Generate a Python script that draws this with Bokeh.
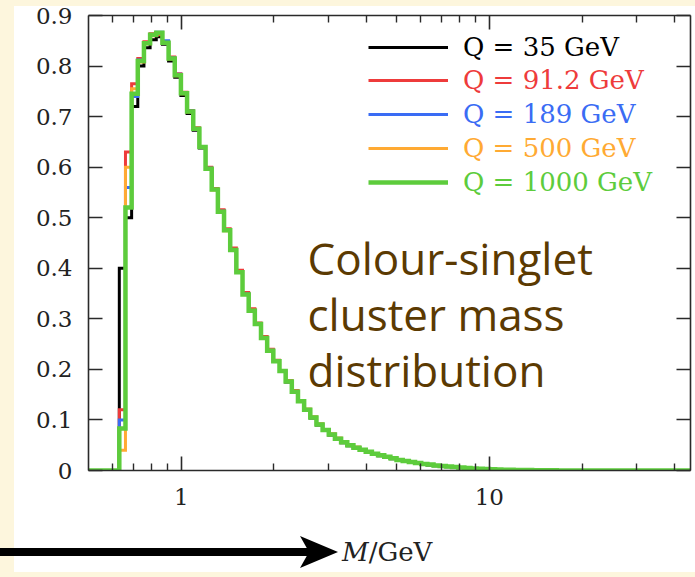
import numpy as np
from bokeh.plotting import figure
from bokeh.layouts import column
from bokeh.models import (FixedTicker, LogAxis, LinearAxis, Label, Legend, LegendItem,
                          Range1d, Div)
from bokeh.embed import file_html
from bokeh.resources import INLINE

# ---------------- data ----------------
# bins: uniform in log10(M), width 0.02 decades, starting at M = 0.5 GeV
bin_start_gev = 0.5
bin_width_dec = 0.02
x_max_gev = 45.0

q_labels = ["Q = 35 GeV", "Q = 91.2 GeV", "Q = 189 GeV", "Q = 500 GeV", "Q = 1000 GeV"]
colors = ["#000000", "#ee3b3b", "#3a6cf4", "#ffaa33", "#5dcc3c"]
widths = [3, 3, 3, 3, 4.5]

q35 = [0, 0, 0, 0, 0, 0.40, 0.50, 0.72, 0.80, 0.836, 0.852, 0.858, 0.843, 0.81, 0.778,
       0.742, 0.706, 0.673, 0.638, 0.596, 0.556, 0.514, 0.476, 0.437, 0.394, 0.35, 0.318,
       0.29, 0.263, 0.238, 0.216, 0.196, 0.175, 0.156, 0.137, 0.12, 0.104, 0.09, 0.079,
       0.07, 0.062, 0.055, 0.049, 0.044, 0.04, 0.036, 0.032, 0.029, 0.026, 0.023, 0.02,
       0.018, 0.016, 0.014, 0.012, 0.011, 0.0095, 0.0085, 0.0075, 0.0065, 0.0055, 0.0045,
       0.0037, 0.003, 0.0025, 0.002, 0.0016, 0.0013, 0.001, 0.0008, 0.0006, 0.0004,
       0.0003, 0.0002, 0.0001]
q91 = [0, 0, 0, 0, 0, 0.12, 0.63, 0.765, 0.815, 0.848, 0.864, 0.862, 0.848, 0.818, 0.785,
       0.748, 0.712, 0.678, 0.64, 0.6, 0.558, 0.516, 0.478, 0.44, 0.396, 0.352, 0.32,
       0.292, 0.265, 0.24, 0.218, 0.198, 0.178, 0.158, 0.138, 0.121, 0.106, 0.092, 0.081,
       0.072, 0.064, 0.057, 0.051, 0.046, 0.041, 0.037, 0.033, 0.03, 0.027, 0.024, 0.021,
       0.019, 0.017, 0.015, 0.013, 0.012, 0.01, 0.009, 0.008, 0.007, 0.006, 0.005, 0.004,
       0.0035, 0.003, 0.0025, 0.002, 0.0017, 0.0014, 0.0012, 0.001, 0.0008, 0.0006,
       0.0005, 0.0004, 0.0003, 0.0002, 0.0001]
q189 = [0, 0, 0, 0, 0, 0.10, 0.56, 0.74, 0.812, 0.846, 0.862, 0.867, 0.85, 0.816, 0.784,
        0.747, 0.711, 0.676, 0.641, 0.598, 0.556, 0.513, 0.475, 0.437, 0.393, 0.349, 0.316,
        0.29, 0.262, 0.238, 0.216, 0.197, 0.176, 0.156, 0.137, 0.12, 0.105, 0.091, 0.08,
        0.071, 0.063, 0.056, 0.05, 0.045, 0.041, 0.037, 0.033, 0.03, 0.027, 0.024, 0.021,
        0.019, 0.017, 0.015, 0.013, 0.012, 0.01, 0.009, 0.008, 0.007, 0.006, 0.005, 0.004,
        0.0035, 0.003, 0.0025, 0.002, 0.0017, 0.0014, 0.0012, 0.001, 0.0008, 0.0006,
        0.0005, 0.0004, 0.0003, 0.0002, 0.0001]
q500 = [0, 0, 0, 0, 0, 0.04, 0.60, 0.755, 0.808, 0.844, 0.86, 0.864, 0.846, 0.814, 0.781,
        0.745, 0.709, 0.675, 0.639, 0.597, 0.555, 0.512, 0.474, 0.436, 0.392, 0.348, 0.317,
        0.291, 0.263, 0.238, 0.217, 0.198, 0.177, 0.157, 0.138, 0.121, 0.106, 0.092, 0.081,
        0.072, 0.064, 0.057, 0.051, 0.046, 0.041, 0.037, 0.033, 0.03, 0.027, 0.024, 0.021,
        0.019, 0.017, 0.015, 0.013, 0.012, 0.01, 0.009, 0.008, 0.007, 0.006, 0.005, 0.004,
        0.0035, 0.003, 0.0025, 0.002, 0.0017, 0.0014, 0.0012, 0.001, 0.0008, 0.0006,
        0.0005, 0.0004, 0.0003, 0.0002, 0.0001]
q1000 = [0, 0, 0, 0, 0, 0.083, 0.52, 0.745, 0.81, 0.845, 0.862, 0.866, 0.846, 0.815, 0.782,
         0.746, 0.71, 0.676, 0.64, 0.597, 0.556, 0.512, 0.475, 0.436, 0.392, 0.348, 0.316,
         0.29, 0.262, 0.237, 0.216, 0.197, 0.176, 0.156, 0.137, 0.12, 0.105, 0.091, 0.08,
         0.071, 0.063, 0.056, 0.05, 0.045, 0.041, 0.037, 0.033, 0.03, 0.027, 0.024, 0.021,
         0.019, 0.017, 0.015, 0.013, 0.012, 0.01, 0.009, 0.008, 0.007, 0.006, 0.005, 0.004,
         0.0035, 0.003, 0.0025, 0.002, 0.0017, 0.0014, 0.0012, 0.001, 0.0008, 0.0006,
         0.0005, 0.0004, 0.0003, 0.0002, 0.0001]
series = [q35, q91, q189, q500, q1000]

x_major = [1, 10]
x_minor = [0.6, 0.7, 0.8, 0.9, 2, 3, 4, 5, 6, 7, 8, 9, 20, 30, 40]
y_ticks = [0, 0.1, 0.2, 0.3, 0.4, 0.5, 0.6, 0.7, 0.8, 0.9]
y_tick_labels = ["0", "0.1", "0.2", "0.3", "0.4", "0.5", "0.6", "0.7", "0.8", "0.9"]
title_lines = ["Colour-singlet", "cluster mass", "distribution"]
x_title_var = "M"
x_title_unit = "/GeV"

# ---------------- styling ----------------
CREAM = "#fdf6dd"
BROWN = "#5b3a02"
SERIF = "DejaVu Serif"
AX = "#2a2a2a"
W = 695
H_MAIN = 530
H_ARROW = 47


def step_xy(vals):
    n = len(vals)
    edges = 10 ** (np.log10(bin_start_gev) + bin_width_dec * np.arange(n + 1))
    xs, ys = [], []
    for k, v in enumerate(vals):
        xs += [edges[k], edges[k + 1]]
        ys += [v, v]
    xs += [edges[-1], x_max_gev]
    ys += [0, 0]
    return xs, ys


p = figure(width=W, height=H_MAIN, x_axis_type="log",
           x_range=Range1d(bin_start_gev, x_max_gev), y_range=Range1d(0, 0.9),
           output_backend="svg", toolbar_location=None,
           min_border_left=88, min_border_right=5, min_border_top=15, min_border_bottom=60,
           border_fill_alpha=0, background_fill_color="white",
           outline_line_color=None)
# cream page with a white card behind the chart
p.styles = {"background": "linear-gradient(#ffffff, #ffffff) 14px 6px / 681px 524px no-repeat, "
                          + CREAM}
p.grid.visible = False

renderers = []
for vals, c, w in zip(series, colors, widths):
    xs, ys = step_xy(vals)
    r = p.line(xs, ys, line_color=c, line_width=w, line_join="miter")
    renderers.append(r)

xt = FixedTicker(ticks=x_major, minor_ticks=x_minor)
yt = FixedTicker(ticks=y_ticks)


def style_axis(ax):
    ax.axis_line_color = AX
    ax.axis_line_width = 1.6
    ax.major_tick_line_color = AX
    ax.major_tick_line_width = 1.6
    ax.minor_tick_line_color = AX
    ax.minor_tick_line_width = 1.4
    ax.major_tick_in = 14
    ax.major_tick_out = 0
    ax.minor_tick_in = 7
    ax.minor_tick_out = 0
    ax.major_label_text_font = SERIF
    ax.major_label_text_font_size = "23px"
    ax.major_label_text_color = "#222222"


xa = p.xaxis[0]
xa.ticker = xt
style_axis(xa)
xa.major_label_overrides = {1: "1", 10: "10"}
xa.major_label_standoff = 18

ya = p.yaxis[0]
ya.ticker = yt
style_axis(ya)
ya.major_label_overrides = dict(zip(y_ticks, y_tick_labels))
ya.major_label_standoff = 16

top = LogAxis(ticker=xt)
style_axis(top)
top.major_label_overrides = {t: "" for t in x_major}
top.major_label_standoff = 0
p.add_layout(top, "above")

right = LinearAxis(ticker=yt)
style_axis(right)
right.major_label_overrides = {t: "" for t in y_ticks}
right.major_label_standoff = 0
p.add_layout(right, "right")

# legends: one per series so that each label gets its own colour
row_centres = [46.7, 80.0, 114.0, 147.5, 181.5]
for lab, r, c, yc in zip(q_labels, renderers, colors, row_centres):
    lg = Legend(items=[LegendItem(label=lab, renderers=[r])],
                location=(280, 470 - yc - 16),
                glyph_width=80, glyph_height=32, label_height=32, label_standoff=15,
                padding=0, margin=0, spacing=0,
                border_line_color=None, background_fill_alpha=0,
                label_text_font=SERIF, label_text_font_size="26px",
                label_text_color=c)
    p.add_layout(lg)

# big description text
for i, line in enumerate(title_lines):
    p.add_layout(Label(x=307, y=257 + 56 * i, x_units="canvas", y_units="canvas",
                       text=line, text_font="Open Sans", text_font_size="44px",
                       text_color=BROWN, text_baseline="alphabetic"))

# ---------------- strip below: arrow + axis title ----------------
strip_html = (
    f'<div style="position:relative;width:{W}px;height:{H_ARROW}px;margin:0;'
    f'background:linear-gradient(#ffffff,#ffffff) 14px 0px / 681px 42px no-repeat, {CREAM};">'
    f'<svg width="{W}" height="{H_ARROW}" style="position:absolute;left:0;top:0">'
    '<line x1="0" y1="22" x2="312" y2="22" stroke="black" stroke-width="8"/>'
    '<polygon points="300,6 338,22 300,38 309,22" fill="black"/>'
    '</svg>'
    f'<span style="position:absolute;left:342px;top:0;height:44px;line-height:44px;'
    f"font-family:'{SERIF}';font-size:26px;color:#222222;white-space:nowrap\">"
    f'<i>{x_title_var}</i>{x_title_unit}</span></div>'
)
strip = Div(text=strip_html, width=W, height=H_ARROW, margin=0,
            styles={"padding": "0", "margin": "0"})

open("out.html", "w").write(file_html(column(p, strip, spacing=0), INLINE))
